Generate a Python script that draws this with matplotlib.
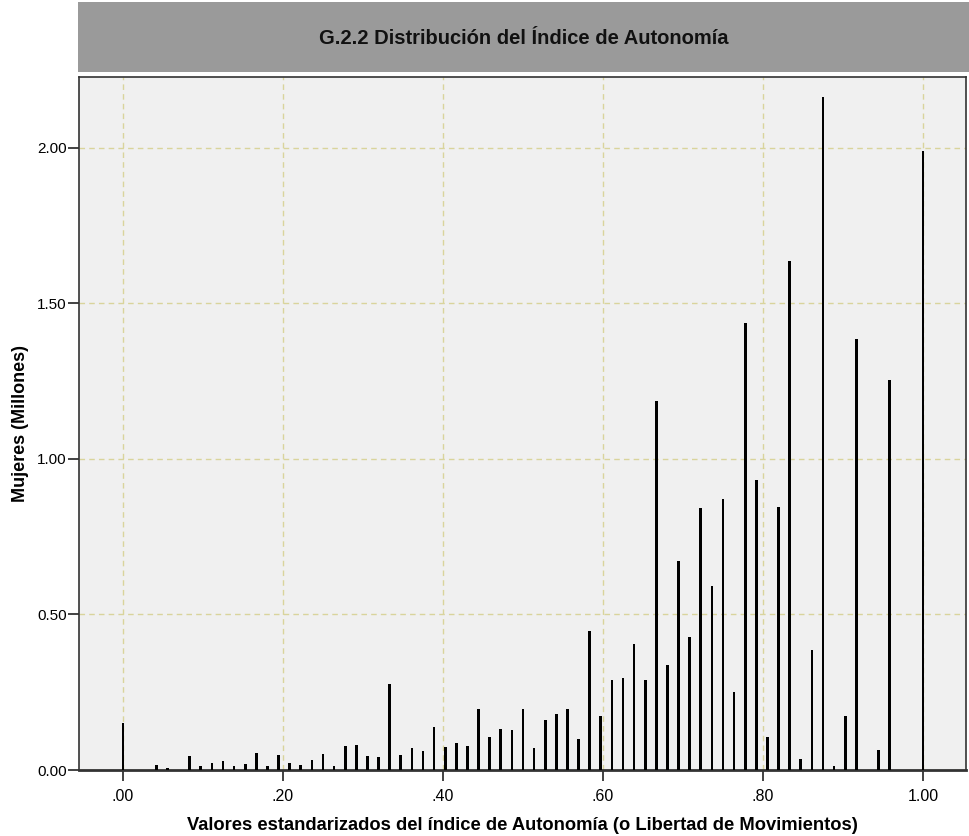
import matplotlib
matplotlib.use("Agg")
import matplotlib.pyplot as plt
from matplotlib.patches import Rectangle

# Index values are steps of 1/72 on the standardized scale
steps = [0, 3, 4, 6, 7, 8, 9, 10, 11, 12, 13, 14, 15, 16, 17, 18, 19, 20,
         21, 22, 23, 24, 25, 26, 27, 28, 29, 30, 31, 32, 33, 34, 35, 36, 37,
         38, 39, 40, 41, 42, 43, 44, 45, 46, 47, 48, 49, 50, 51, 52, 53, 54,
         55, 56, 57, 58, 59, 60, 61, 62, 63, 64, 65, 66, 68, 69, 72]
# Women per index value (millions)
mujeres = [0.150, 0.016, 0.006, 0.046, 0.014, 0.023, 0.028, 0.014, 0.018,
           0.056, 0.013, 0.048, 0.021, 0.017, 0.032, 0.052, 0.012, 0.078,
           0.079, 0.044, 0.043, 0.277, 0.048, 0.070, 0.061, 0.139, 0.073,
           0.086, 0.077, 0.195, 0.105, 0.132, 0.130, 0.195, 0.072, 0.161,
           0.179, 0.197, 0.099, 0.448, 0.173, 0.288, 0.297, 0.405, 0.288,
           1.185, 0.336, 0.673, 0.427, 0.841, 0.592, 0.870, 0.251, 1.437,
           0.933, 0.105, 0.844, 1.638, 0.035, 0.385, 2.165, 0.013, 0.173,
           1.387, 0.063, 1.254, 1.990]
indice = [k / 72 for k in steps]

x_ticks = [0.0, 0.2, 0.4, 0.6, 0.8, 1.0]
x_tick_labels = [".00", ".20", ".40", ".60", ".80", "1.00"]
y_ticks = [0.0, 0.5, 1.0, 1.5, 2.0]
y_tick_labels = ["0.00", "0.50", "1.00", "1.50", "2.00"]

titulo = "G.2.2 Distribución del Índice de Autonomía"
eje_x = "Valores estandarizados del índice de Autonomía (o Libertad de Movimientos)"
eje_y = "Mujeres (Millones)"

fuente = ["Liberation Sans", "DejaVu Sans"]

W, H = 969, 836
fig = plt.figure(figsize=(W / 100, H / 100), dpi=100)
fig.patch.set_facecolor("white")

# Title banner
fig.patches.append(Rectangle((78 / W, 1 - 72 / H), 1 - 78 / W, 70 / H,
                             transform=fig.transFigure, facecolor="#9a9a9a",
                             edgecolor="none", zorder=0))
fig.text((78 + 969) / 2 / W, 1 - 39 / H, titulo, ha="center", va="center",
         fontsize=14.5, family=fuente, fontweight="bold", color="#111111")

ax = fig.add_axes([79 / W, 1 - 770 / H, 887 / W, (770 - 77) / H])
ax.set_facecolor("#f0f0f0")

ax.bar(indice, mujeres, width=0.0032, color="black", edgecolor="none",
       zorder=3)

ax.set_xlim(-0.0550, 1.05375)
ax.set_ylim(0, 2.228)

ax.set_xticks(x_ticks)
ax.set_xticklabels(x_tick_labels, family=fuente, fontsize=11.5)
ax.set_yticks(y_ticks)
ax.set_yticklabels(y_tick_labels, family=fuente, fontsize=11)

ax.grid(True, color="#d9d49c", linestyle=(0, (4, 3)), linewidth=1, zorder=1)
ax.tick_params(axis="x", direction="out", length=8, width=1.2,
               color="#222222", pad=6)
ax.tick_params(axis="y", direction="out", length=8, width=1.2,
               color="#222222", pad=1)
for s in ax.spines.values():
    s.set_color("#333333")
    s.set_linewidth(1.2)
ax.spines["bottom"].set_linewidth(2)

ax.set_xlabel(eje_x, family=fuente, fontweight="bold", fontsize=13.2,
              labelpad=9)
ax.set_ylabel(eje_y, family=fuente, fontweight="bold", fontsize=13,
              labelpad=6)

fig.savefig("out.png", dpi=100)
